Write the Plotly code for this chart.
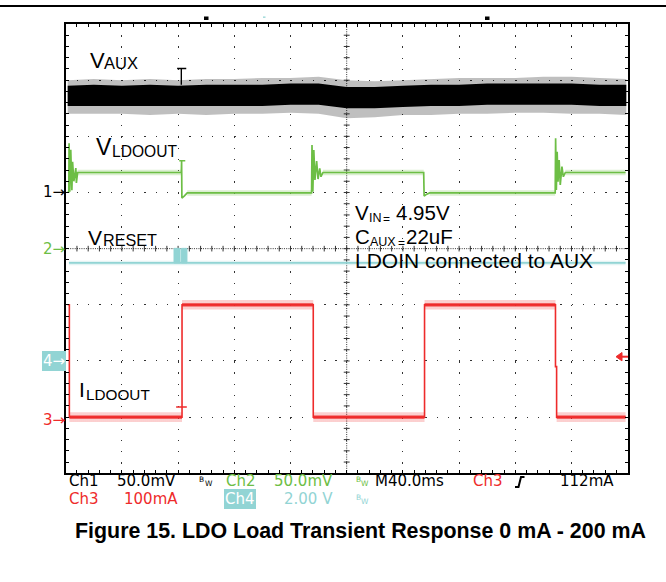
import plotly.graph_objects as go

W, H = 666, 582
# plot area in px (scope graticule)
PL, PR, PT, PB = 65.7, 627.7, 24.0, 473.3

# ---------------- scope settings (screen readout) ----------------
TIME_PER_DIV_MS = 40.0
CH1_PER_DIV, CH1_MARK = 50.0, 1.0     # V_AUX   (mV)
CH2_PER_DIV, CH2_MARK = 50.0, 0.0     # V_LDOOUT (mV)
CH3_PER_DIV, CH3_MARK = 100.0, -3.0   # I_LDOOUT (mA)
CH4_PER_DIV, CH4_MARK = 2.0, -2.0     # V_RESET  (V)

# ---------------- V_AUX (ch1) peak-detect envelope, mV ----------------
vaux_t = [1.4, 20, 40, 60, 80, 100, 120, 140, 160, 180, 200, 220, 240, 260, 280, 300, 320, 340, 360, 380, 399]
vaux_hi = [100, 101, 100, 101, 100, 101, 101, 102, 102, 103, 100, 99, 100, 101, 102, 102, 102, 103, 103, 102, 101]
vaux_core_hi = [95, 96, 95, 96, 95, 96, 96, 96, 97, 97, 94, 94, 95, 96, 96, 97, 97, 97, 97, 96, 96]
vaux_core_lo = [77, 77, 77, 77, 77, 77, 77, 77, 78, 78, 75, 75, 76, 77, 77, 78, 78, 78, 78, 77, 77]
vaux_lo = [70, 70, 70, 69, 70, 69, 70, 70, 71, 70, 66, 67, 69, 69, 70, 70, 71, 71, 70, 70, 69]
vaux_glitch_t = [82.3, 82.3, 79.3, 85.8]
vaux_glitch_mV = [96, 110.4, 110.4, 110.4]

# ---------------- V_LDOOUT (ch2), mV ----------------
vldo_t = [1.4, 2.2, 2.4, 2.9, 3.6, 4.4, 4.9, 5.8, 7.2, 7.6, 8.5,
          82.3, 82.5, 82.7, 84.5, 86.5,
          175.0, 175.3, 175.9, 176.6, 177.4, 178.6, 179.6, 180.8, 181.7, 183.1,
          254.8, 255.1, 257.0, 259.0,
          348.4, 348.7, 349.2, 349.8, 350.4, 351.2, 352.0, 353.2, 354.2, 355.6, 398.5]
vldo_mV = [50.5, 50.5, 93.8, 50.7, 88.0, 52.0, 77.4, 60.0, 71.8, 58.5, 67.8,
           67.8, 78.3, 45.0, 47.0, 49.6,
           49.6, 92.3, 50.7, 87.8, 61.1, 78.0, 62.0, 71.5, 64.0, 67.8,
           67.8, 46.9, 48.5, 49.6,
           49.6, 98.2, 52.2, 86.3, 59.6, 78.9, 56.7, 73.0, 64.0, 67.8, 67.8]
vldo_flat_start = [8.5, 86.5, 183.1, 259.0, 355.6]
vldo_flat_end = [82.3, 175.0, 254.8, 348.4, 398.5]
vldo_flat_mV = [67.8, 49.6, 67.8, 49.6, 67.8]
vldo_noise_mV = 2.4
vldo_glitch_t = [80.8, 85.1]
vldo_glitch_mV = [78.3, 78.3]

# ---------------- I_LDOOUT (ch3), mA ----------------
iload_t = [1.4, 2.6, 2.6, 82.8, 82.8, 176.2, 176.2, 255.4, 255.4, 348.6, 348.6, 349.4, 349.4, 398.5]
iload_mA = [200, 200, 0, 0, 200, 200, 0, 0, 200, 200, 90, 90, 0, 0]
iload_flat_start = [2.6, 82.8, 176.2, 255.4, 349.4]
iload_flat_end = [82.8, 176.2, 255.4, 348.6, 398.5]
iload_flat_mA = [0, 200, 0, 200, 0]
iload_noise_core_mA = 3.0
iload_noise_peak_mA = 8.5
iload_glitch_t = [78.6, 86.2]
iload_glitch_mA = [18, 18]

# ---------------- V_RESET (ch4), V ----------------
vrst_t = [2.3, 398.5]
vrst_V = [3.49, 3.49]
vrst_noise_V = 0.08
vrst_pulse_start = [77.1, 82.4]
vrst_pulse_end = [81.4, 86.3]
vrst_pulse_top = [4.01, 4.01]

GREEN = "#6dbe45"
RED = "#ee2b2b"
CYAN = "#92d4d4"
ARIAL = "Liberation Sans, Arial, sans-serif"
DJV = "DejaVu Sans, sans-serif"


def to_div(vals, per_div, mark):
    return [mark + v / per_div for v in vals]


def band(starts, ends, levels, half, per_div, mark):
    xs, ys = [], []
    for s, e, l in zip(starts, ends, levels):
        lo = mark + (l - half) / per_div
        hi = mark + (l + half) / per_div
        xs += [s, e, e, s, s, None]
        ys += [lo, lo, hi, hi, lo, None]
    return xs, ys


def hatch(color, solidity):
    return dict(shape="|", fgcolor=color, bgcolor="rgba(255,255,255,0)", size=2, solidity=solidity)


fig = go.Figure()

# V_AUX envelope (outer spikes as hatch + dense core)
fig.add_trace(go.Scatter(x=vaux_t + vaux_t[::-1],
                         y=to_div(vaux_hi + vaux_lo[::-1], CH1_PER_DIV, CH1_MARK),
                         fill="toself", fillcolor="rgba(0,0,0,0.3)", mode="lines",
                         fillpattern=hatch("black", 0.5),
                         line=dict(width=0), hoverinfo="skip"))
fig.add_trace(go.Scatter(x=vaux_t + vaux_t[::-1],
                         y=to_div(vaux_core_hi + vaux_core_lo[::-1], CH1_PER_DIV, CH1_MARK),
                         fill="toself", fillcolor="#000000", mode="lines",
                         line=dict(width=0), hoverinfo="skip"))
fig.add_trace(go.Scatter(x=vaux_glitch_t, y=to_div(vaux_glitch_mV, CH1_PER_DIV, CH1_MARK),
                         mode="lines", line=dict(color="black", width=1.4), hoverinfo="skip"))

# V_RESET
bx, by = band([vrst_t[0]], [vrst_t[-1]], [vrst_V[0]], vrst_noise_V, CH4_PER_DIV, CH4_MARK)
fig.add_trace(go.Scatter(x=bx, y=by, fill="toself", fillcolor="rgba(146,212,212,0.3)",
                         fillpattern=hatch(CYAN, 0.5),
                         mode="lines", line=dict(width=0), hoverinfo="skip"))
fig.add_trace(go.Scatter(x=vrst_t, y=to_div(vrst_V, CH4_PER_DIV, CH4_MARK), mode="lines",
                         line=dict(color=CYAN, width=1.8), hoverinfo="skip"))
px_, py_ = [], []
for s, e, top in zip(vrst_pulse_start, vrst_pulse_end, vrst_pulse_top):
    b0 = CH4_MARK + vrst_V[0] / CH4_PER_DIV
    t0 = CH4_MARK + top / CH4_PER_DIV
    px_ += [s, e, e, s, s, None]
    py_ += [b0, b0, t0, t0, b0, None]
fig.add_trace(go.Scatter(x=px_, y=py_, fill="toself", fillcolor=CYAN, mode="lines",
                         line=dict(color=CYAN, width=1), hoverinfo="skip"))

# V_LDOOUT
bx, by = band(vldo_flat_start, vldo_flat_end, vldo_flat_mV, vldo_noise_mV, CH2_PER_DIV, CH2_MARK)
fig.add_trace(go.Scatter(x=bx, y=by, fill="toself", fillcolor="rgba(109,190,69,0.25)",
                         fillpattern=hatch(GREEN, 0.5),
                         mode="lines", line=dict(width=0), hoverinfo="skip"))
fig.add_trace(go.Scatter(x=vldo_t, y=to_div(vldo_mV, CH2_PER_DIV, CH2_MARK), mode="lines",
                         line=dict(color=GREEN, width=1.7), hoverinfo="skip"))
fig.add_trace(go.Scatter(x=vldo_glitch_t, y=to_div(vldo_glitch_mV, CH2_PER_DIV, CH2_MARK),
                         mode="lines", line=dict(color=GREEN, width=1.6), hoverinfo="skip"))

# I_LDOOUT
bx, by = band(iload_flat_start, iload_flat_end, iload_flat_mA, iload_noise_peak_mA, CH3_PER_DIV, CH3_MARK)
fig.add_trace(go.Scatter(x=bx, y=by, fill="toself", fillcolor="rgba(238,43,43,0.15)",
                         fillpattern=hatch(RED, 0.45),
                         mode="lines", line=dict(width=0), hoverinfo="skip"))
bx, by = band(iload_flat_start, iload_flat_end, iload_flat_mA, iload_noise_core_mA, CH3_PER_DIV, CH3_MARK)
fig.add_trace(go.Scatter(x=bx, y=by, fill="toself", fillcolor="rgba(238,43,43,0.9)",
                         mode="lines", line=dict(width=0), hoverinfo="skip"))
fig.add_trace(go.Scatter(x=iload_t, y=to_div(iload_mA, CH3_PER_DIV, CH3_MARK), mode="lines",
                         line=dict(color=RED, width=1.6), hoverinfo="skip"))
fig.add_trace(go.Scatter(x=iload_glitch_t, y=to_div(iload_glitch_mA, CH3_PER_DIV, CH3_MARK),
                         mode="lines", line=dict(color=RED, width=1.4), hoverinfo="skip"))

# ---------------- graticule ----------------
XMAX = 10 * TIME_PER_DIV_MS
minor_px = (PR - PL) / 50.0
dash = "1.3px,%.2fpx" % (minor_px - 1.3)
axis_common = dict(showgrid=True, gridcolor="#333333", gridwidth=1.2, griddash=dash,
                   showline=True, linecolor="black", linewidth=2, mirror="allticks",
                   ticks="inside", ticklen=3, tickcolor="black", tickwidth=1,
                   showticklabels=False, zeroline=False, fixedrange=True)
fig.update_layout(
    width=W, height=H, margin=dict(l=0, r=0, t=0, b=0),
    paper_bgcolor="white", plot_bgcolor="white", showlegend=False,
    xaxis=dict(range=[0, XMAX], domain=[PL / W, PR / W], dtick=TIME_PER_DIV_MS, tick0=0,
               minor=dict(dtick=TIME_PER_DIV_MS / 5, ticks="inside", ticklen=3,
                          tickcolor="black", showgrid=False), **axis_common),
    yaxis=dict(range=[-4, 4], domain=[1 - PB / H, 1 - PT / H], dtick=1, tick0=0,
               minor=dict(dtick=0.2, ticks="inside", ticklen=3,
                          tickcolor="black", showgrid=False), **axis_common),
)

shapes = []
# centre cross-hair (finer dots + minor ticks)
shapes.append(dict(type="line", xref="x", yref="y", x0=XMAX / 2, x1=XMAX / 2, y0=-4, y1=4,
                   line=dict(color="#333", width=1, dash="1px,1.25px"), layer="below"))
shapes.append(dict(type="line", xref="x", yref="y", x0=0, x1=XMAX, y0=0, y1=0,
                   line=dict(color="#333", width=1, dash="1px,1.25px"), layer="below"))
for k in range(1, 50):
    xv = k * TIME_PER_DIV_MS / 5
    shapes.append(dict(type="line", xref="x", yref="y", x0=xv, x1=xv, y0=-0.05, y1=0.05,
                       line=dict(color="#333", width=1), layer="below"))
for k in range(-19, 20):
    yv = k * 0.2
    shapes.append(dict(type="line", xref="x", yref="y", x0=XMAX / 2 - 2.1, x1=XMAX / 2 + 2.1,
                       y0=yv, y1=yv, line=dict(color="#333", width=1), layer="below"))


def pxx(x):
    return x / W


def pyy(y):
    return 1 - y / H


# page header rule
shapes.append(dict(type="line", xref="paper", yref="paper", x0=0, x1=1, y0=pyy(6), y1=pyy(6),
                   line=dict(color="black", width=2)))
# top indicators
for (x0, x1, y0, y1, c) in [(204, 208.5, 16.5, 20, "black"), (485, 489.5, 16.5, 20, "black"),
                            (263, 265.5, 16.5, 17.8, CYAN)]:
    shapes.append(dict(type="rect", xref="paper", yref="paper", x0=pxx(x0), x1=pxx(x1),
                       y0=pyy(y1), y1=pyy(y0), fillcolor=c, line=dict(width=0)))
# trigger level arrow (right edge)
shapes.append(dict(type="path", xref="paper", yref="paper",
                   path="M %f,%f L %f,%f L %f,%f Z" % (pxx(616), pyy(356.7), pxx(622), pyy(352.5),
                                                       pxx(622), pyy(360.9)),
                   fillcolor=RED, line=dict(color=RED, width=1)))
shapes.append(dict(type="line", xref="paper", yref="paper", x0=pxx(621), x1=pxx(628),
                   y0=pyy(356.7), y1=pyy(356.7), line=dict(color=RED, width=2)))
# trigger slope symbol
shapes.append(dict(type="path", xref="paper", yref="paper",
                   path="M %f,%f L %f,%f L %f,%f L %f,%f" % (pxx(515), pyy(487), pxx(518.5), pyy(487),
                                                             pxx(521), pyy(477), pxx(524.5), pyy(477)),
                   line=dict(color="black", width=2)))
fig.update_layout(shapes=shapes)


def txt(s, x, baseline, size, color="black", family=ARIAL, bg=None, pad=0):
    fig.add_annotation(xref="paper", yref="paper", x=pxx(x - 1 - pad), y=pyy(baseline - 0.35 * size),
                       xanchor="left", yanchor="middle", text=s, showarrow=False,
                       font=dict(family=family, size=size, color=color),
                       bgcolor=bg, borderpad=pad, borderwidth=0)


def mark(s, xr, yc, size, color, bg=None):
    fig.add_annotation(xref="paper", yref="paper", x=pxx(xr), y=pyy(yc),
                       xanchor="right", yanchor="middle", text=s, showarrow=False,
                       font=dict(family=DJV, size=size, color=color),
                       bgcolor=bg, borderpad=1, borderwidth=0)


# trace labels
txt("V", 91.3, 68, 22); txt("AUX", 104.5, 69, 16.5)
txt("V", 96.7, 155, 23); txt("LDOOUT", 112.5, 157, 15.6)
txt("V", 89, 245, 21); txt("RESET", 103.5, 246, 16.2)
txt("I", 79.5, 397, 21); txt("LDOOUT", 87.5, 400, 15.3)

# conditions block
txt("V", 356, 220, 20.5); txt("IN", 369.5, 222.5, 12.5); txt("=", 384, 223, 12); txt("4.95V", 397, 220, 20.5)
txt("C", 356, 244, 20.5); txt("AUX", 371, 246.5, 12.5); txt("=", 399, 247, 12); txt("22uF", 406.5, 244, 20.5)
txt("LDOIN connected to AUX", 356, 268, 21)

# channel ground markers
mark("1→", 66, 192.5, 15, "black")
mark("2→", 66, 248.7, 15, GREEN)
mark("3→", 66, 420, 15, RED)
mark("4→", 66, 361, 15, "white", bg=CYAN)

# readout
RS = 15
R1, R2 = 486.5, 504
txt("Ch1", 70, R1, RS, "black", DJV); txt("50.0mV", 118, R1, RS, "black", DJV)
txt("B", 200, R1 - 4, 7.5, "black", DJV); txt("W", 205.5, R1, 7.5, "black", DJV)
txt("Ch2", 227, R1, RS, GREEN, DJV); txt("50.0mV", 275, R1, RS, GREEN, DJV)
txt("B", 356.5, R1 - 4, 7.5, GREEN, DJV); txt("W", 362, R1, 7.5, GREEN, DJV)
txt("M40.0ms", 375.8, R1, RS, "black", DJV)
txt("Ch3", 473.5, R1, RS, RED, DJV)
txt("112mA", 560.5, R1, RS, "black", DJV)
txt("Ch3", 70, R2, RS, RED, DJV); txt("100mA", 125, R2, RS, RED, DJV)
txt("Ch4", 226, R2, RS, "white", DJV, bg=CYAN, pad=1)
txt("2.00 V", 285.4, R2, RS, CYAN, DJV)
txt("B", 356.5, R2 - 4, 7.5, CYAN, DJV); txt("W", 362, R2, 7.5, CYAN, DJV)

# caption
txt("<b>Figure 15. LDO Load Transient Response 0 mA - 200 mA</b>", 76.4, 538, 21.4)

fig.write_html("out.html", config={"displayModeBar": False},
               post_script="document.body.style.margin='0';")
